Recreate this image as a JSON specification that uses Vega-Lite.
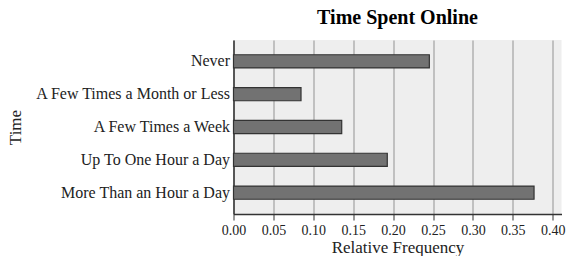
{
  "$schema": "https://vega.github.io/schema/vega-lite/v6.json",
  "width": 328,
  "height": 174,
  "autosize": {"type": "none"},
  "padding": {"left": 233.5, "top": 40, "right": 7.5, "bottom": 42},
  "background": "white",
  "title": {"text": "Time Spent Online", "font": "Liberation Serif", "fontSize": 20, "fontWeight": "bold", "color": "black", "offset": 12, "anchor": "middle"},
  "config": {
    "view": {"fill": "#eeeeee", "stroke": null},
    "font": "Liberation Serif"
  },
  "data": {"values": [
    {"time": "Never", "freq": 0.2454},
    {"time": "A Few Times a Month or Less", "freq": 0.0846},
    {"time": "A Few Times a Week", "freq": 0.1356},
    {"time": "Up To One Hour a Day", "freq": 0.1927},
    {"time": "More Than an Hour a Day", "freq": 0.3766}
  ]},
  "mark": {"type": "bar", "fill": "#727272", "stroke": "#333333", "strokeWidth": 1.2},
  "encoding": {
    "y": {"field": "time", "type": "nominal", "sort": null, "title": "Time",
      "scale": {"paddingInner": 0.6, "paddingOuter": 0.45},
      "axis": {"ticks": false, "labelLimit": 0, "labelFont": "Liberation Serif", "labelFontSize": 16, "labelColor": "#222", "labelPadding": 4, "domainColor": "#333", "domainWidth": 1.5, "grid": false, "titleFont": "Liberation Serif", "titleFontSize": 17, "titleFontWeight": "normal", "titleColor": "#222", "titlePadding": 10}},
    "x": {"field": "freq", "type": "quantitative", "title": "Relative Frequency",
      "scale": {"domain": [0, 0.411], "nice": false},
      "axis": {"values": [0, 0.05, 0.1, 0.15, 0.2, 0.25, 0.3, 0.35, 0.4], "format": ".2f", "labelFlush": false, "labelFont": "Liberation Serif", "labelFontSize": 14, "labelColor": "#222", "tickColor": "#555", "tickSize": 6, "tickWidth": 1.2, "labelPadding": 3, "domainColor": "#333", "domainWidth": 1.5, "grid": true, "gridColor": "#b0b0b0", "gridWidth": 1.5, "titleFont": "Liberation Serif", "titleFontSize": 17, "titleFontWeight": "normal", "titleColor": "#222", "titlePadding": 2}}
  }
}
